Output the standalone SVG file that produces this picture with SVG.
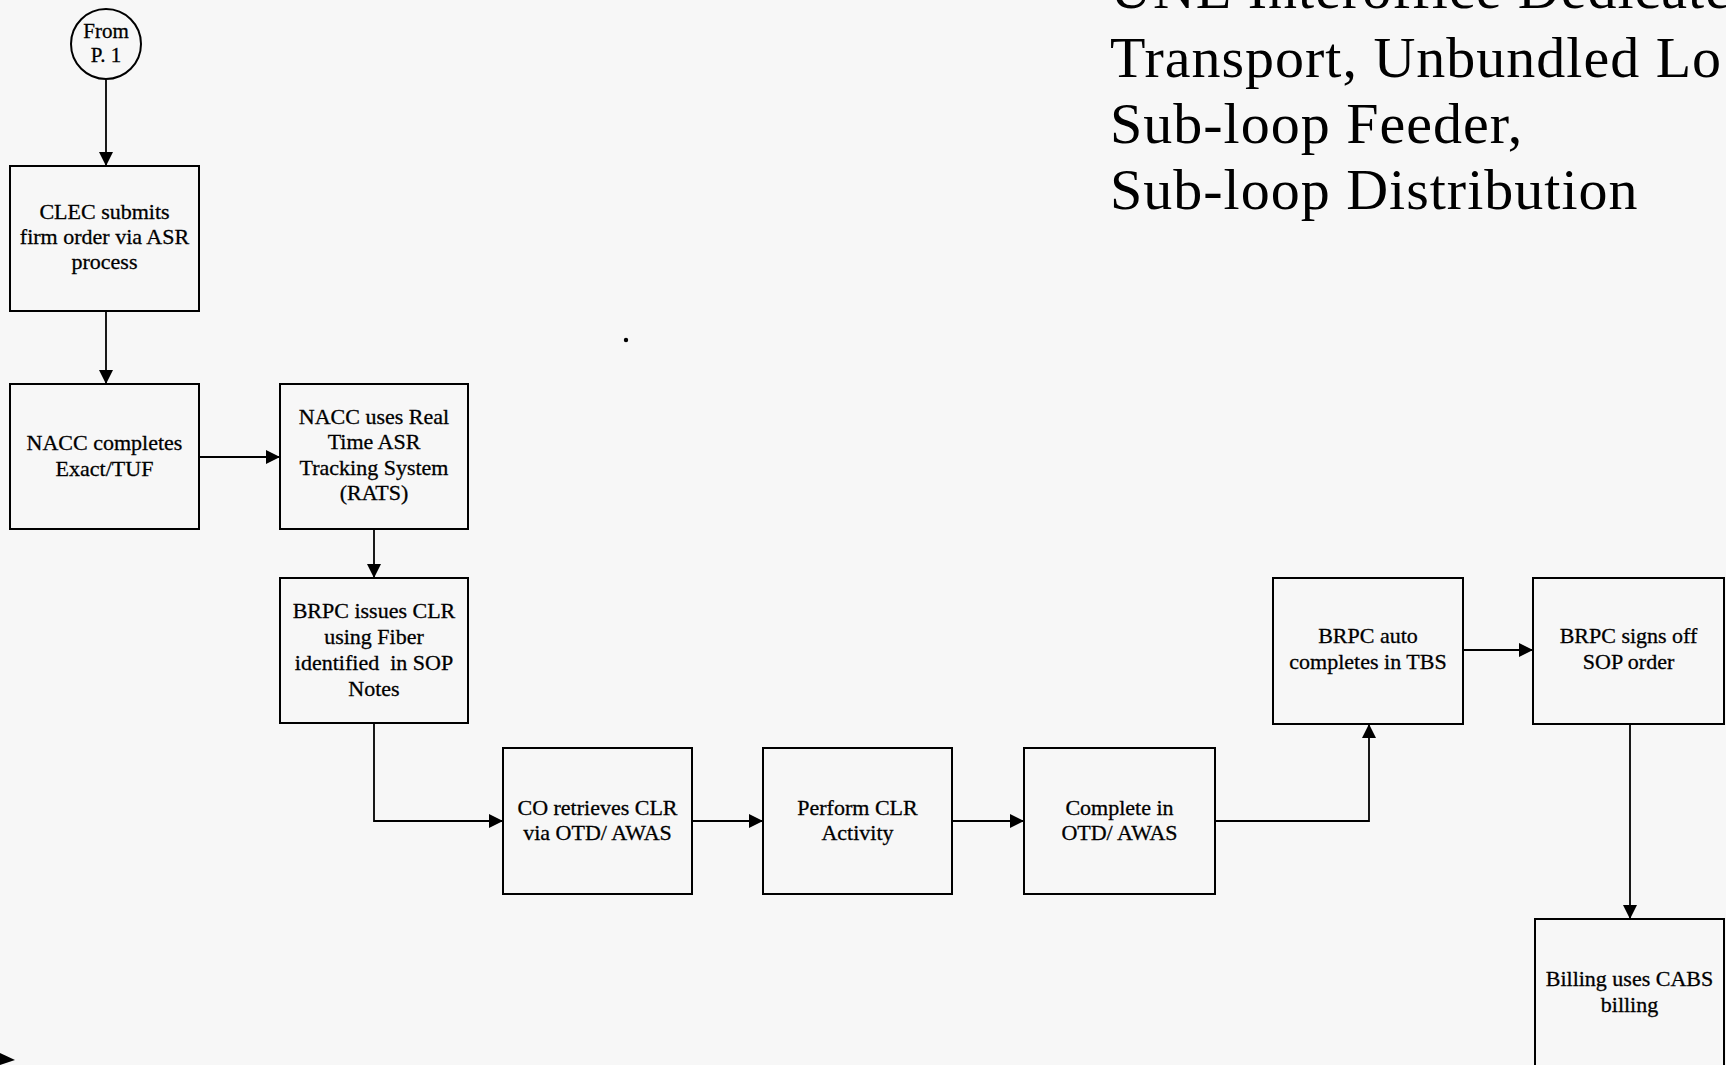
<svg xmlns="http://www.w3.org/2000/svg" width="1726" height="1065" viewBox="0 0 1726 1065">
<style>
.bg{fill:#f7f7f7}
.box{fill:none;stroke:#000;stroke-width:2}
.t{font-family:"Liberation Serif","Times New Roman",serif;font-size:22px;fill:#000;stroke:#000;stroke-width:0.3;text-anchor:middle;white-space:pre}
.title{font-family:"Liberation Serif","Times New Roman",serif;font-size:58px;letter-spacing:1px;fill:#000}
.c{fill:none;stroke:#000;stroke-width:1.8}
</style>
<defs>
<marker id="ah" viewBox="0 0 10 10" markerUnits="userSpaceOnUse" markerWidth="14" markerHeight="14" refX="10" refY="5" orient="auto">
<path d="M0,0 L10,5 L0,10 z" fill="#000"/>
</marker>
</defs>
<rect class="bg" x="0" y="0" width="1726" height="1065"/>

<g id="title">
<text class="title" x="1110" y="8">UNE Interoffice Dedicate</text>
<text class="title" x="1110" y="77">Transport, Unbundled Lo</text>
<text class="title" x="1110" y="143">Sub-loop Feeder,</text>
<text class="title" x="1110" y="209">Sub-loop Distribution</text>
</g>

<g id="connectors">
<path class="c" d="M106,80 L106,166" marker-end="url(#ah)"/>
<path class="c" d="M106,311 L106,384" marker-end="url(#ah)"/>
<path class="c" d="M199,457 L280,457" marker-end="url(#ah)"/>
<path class="c" d="M374,529 L374,578" marker-end="url(#ah)"/>
<path class="c" d="M374,723 L374,821 L503,821" marker-end="url(#ah)"/>
<path class="c" d="M692,821 L763,821" marker-end="url(#ah)"/>
<path class="c" d="M952,821 L1024,821" marker-end="url(#ah)"/>
<path class="c" d="M1215,821 L1369,821 L1369,724" marker-end="url(#ah)"/>
<path class="c" d="M1463,650 L1533,650" marker-end="url(#ah)"/>
<path class="c" d="M1630,724 L1630,919" marker-end="url(#ah)"/>
</g>

<g id="from-p1">
<circle cx="106" cy="44" r="35" fill="none" stroke="#000" stroke-width="2"/>
<text class="t" x="106" y="38" style="font-size:21px">From</text>
<text class="t" x="106" y="62" style="font-size:21px">P. 1</text>
</g>

<g id="clec-submits">
<rect class="box" x="10" y="166" width="189" height="145"/>
<text class="t" x="104.5" y="219">CLEC submits</text>
<text class="t" x="104.5" y="244">firm order via ASR</text>
<text class="t" x="104.5" y="269">process</text>
</g>

<g id="nacc-completes">
<rect class="box" x="10" y="384" width="189" height="145"/>
<text class="t" x="104.5" y="450">NACC completes</text>
<text class="t" x="104.5" y="476">Exact/TUF</text>
</g>

<g id="nacc-rats">
<rect class="box" x="280" y="384" width="188" height="145"/>
<text class="t" x="374" y="424">NACC uses Real</text>
<text class="t" x="374" y="449">Time ASR</text>
<text class="t" x="374" y="475">Tracking System</text>
<text class="t" x="374" y="500">(RATS)</text>
</g>

<g id="brpc-issues">
<rect class="box" x="280" y="578" width="188" height="145"/>
<text class="t" x="374" y="618">BRPC issues CLR</text>
<text class="t" x="374" y="644">using Fiber</text>
<text class="t" x="374" y="670">identified  in SOP</text>
<text class="t" x="374" y="696">Notes</text>
</g>

<g id="co-retrieves">
<rect class="box" x="503" y="748" width="189" height="146"/>
<text class="t" x="597.5" y="815">CO retrieves CLR</text>
<text class="t" x="597.5" y="840">via OTD/ AWAS</text>
</g>

<g id="perform-clr">
<rect class="box" x="763" y="748" width="189" height="146"/>
<text class="t" x="857.5" y="815">Perform CLR</text>
<text class="t" x="857.5" y="840">Activity</text>
</g>

<g id="complete-otd">
<rect class="box" x="1024" y="748" width="191" height="146"/>
<text class="t" x="1119.5" y="815">Complete in</text>
<text class="t" x="1119.5" y="840">OTD/ AWAS</text>
</g>

<g id="brpc-auto">
<rect class="box" x="1273" y="578" width="190" height="146"/>
<text class="t" x="1368" y="643">BRPC auto</text>
<text class="t" x="1368" y="669">completes in TBS</text>
</g>

<g id="brpc-signs">
<rect class="box" x="1533" y="578" width="191" height="146"/>
<text class="t" x="1628.5" y="643">BRPC signs off</text>
<text class="t" x="1628.5" y="669">SOP order</text>
</g>

<g id="billing">
<rect class="box" x="1535" y="919" width="189" height="160"/>
<text class="t" x="1629.5" y="986">Billing uses CABS</text>
<text class="t" x="1629.5" y="1012">billing</text>
</g>

<circle cx="626" cy="340" r="2.2" fill="#000"/>
<path d="M0,1053 L15,1060 L0,1065 z" fill="#000"/>
</svg>
